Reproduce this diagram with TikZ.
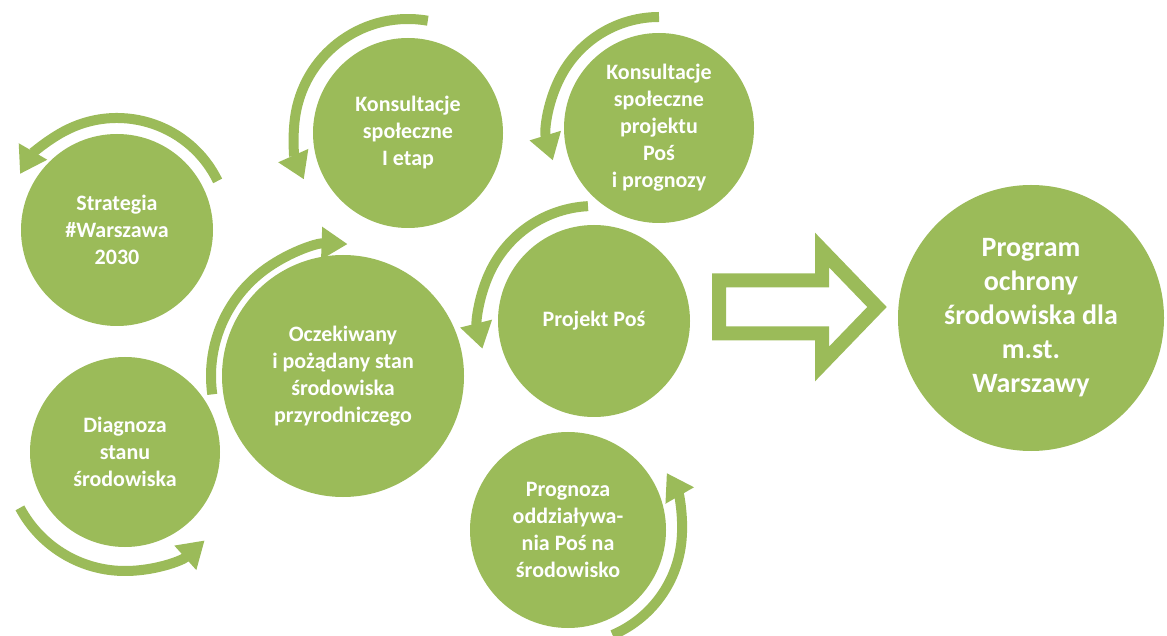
\documentclass[tikz,border=0pt]{standalone}
\usepackage{fontspec}
\setmainfont{Carlito}
\usetikzlibrary{arrows.meta}

\definecolor{olive}{HTML}{9BBB59}

\begin{document}
\begin{tikzpicture}[x=1pt,y=1pt,>={Triangle[width=31pt,length=26pt]},
	stage/.style={circle,fill=olive,inner sep=0pt,align=center,text=white,
		font=\bfseries\fontsize{22}{27}\selectfont},
	cycle/.style={draw=olive,line width=10pt,->}]

\useasboundingbox (0,0) rectangle (1167,635);

\node[stage,minimum size=192pt]   (strat)      	at (117,405)	{Strategia\\\#Warszawa\\2030};
 \node[stage,minimum size=190pt] 	  (diag)  	at (125,183)	{Diagnoza\\stanu\\środowiska};
	\node[stage,minimum size=242pt]   (ocz)   	at (343,259)	{Oczekiwany\\i pożądany stan\\środowiska\\przyrodniczego};
		\node[stage,minimum size=190pt]   (kons1)  	at (408,502)	{Konsultacje\\społeczne\\I etap};
		\node[stage,minimum size=190pt]   (kons2)  	at (659,507)	{Konsultacje\\społeczne\\projektu\\Poś\\i prognozy};
		\node[stage,minimum size=192pt]   (proj)   	at (594,314)	{Projekt Poś};
		\node[stage,minimum size=196pt]   (prog)   	at (568,105)	{Prognoza\\oddziaływa-\\nia Poś na\\środowisko};
		\node[stage,minimum size=266pt,font=\bfseries\fontsize{28}{34}\selectfont]   (pos)   	at (1031,317)	{Program\\ochrony\\środowiska dla\\m.st.\\Warszawy};

	% circular arrows round the stages
	\draw[cycle] (strat.center) ++(26:112) arc[start angle=26,end angle=150,radius=112];
	\draw[cycle] (diag.center) ++(208:119) arc[start angle=208,end angle=312,radius=119];
	\draw[cycle] (ocz.center) ++(188:132) arc[start angle=188,end angle=88,radius=132];
	\draw[cycle] (kons1.center) ++(80:114) arc[start angle=80,end angle=204,radius=114];
	\draw[cycle] (kons2.center) ++(90:111) arc[start angle=90,end angle=197,radius=111];
	\draw[cycle] (proj.center) ++(93:115) arc[start angle=93,end angle=194,radius=115];
	\draw[cycle] (prog.center) ++(-67:114) arc[start angle=-67,end angle=30,radius=114];

	% big outlined arrow
	\draw[olive,line width=14pt,miter limit=10,fill=white] (719,354.5) -- (822,354.5) -- (822,385) -- (877,328)
		-- (822,271) -- (822,301.5) -- (719,301.5) -- cycle;

	\end{tikzpicture}
\end{document}
